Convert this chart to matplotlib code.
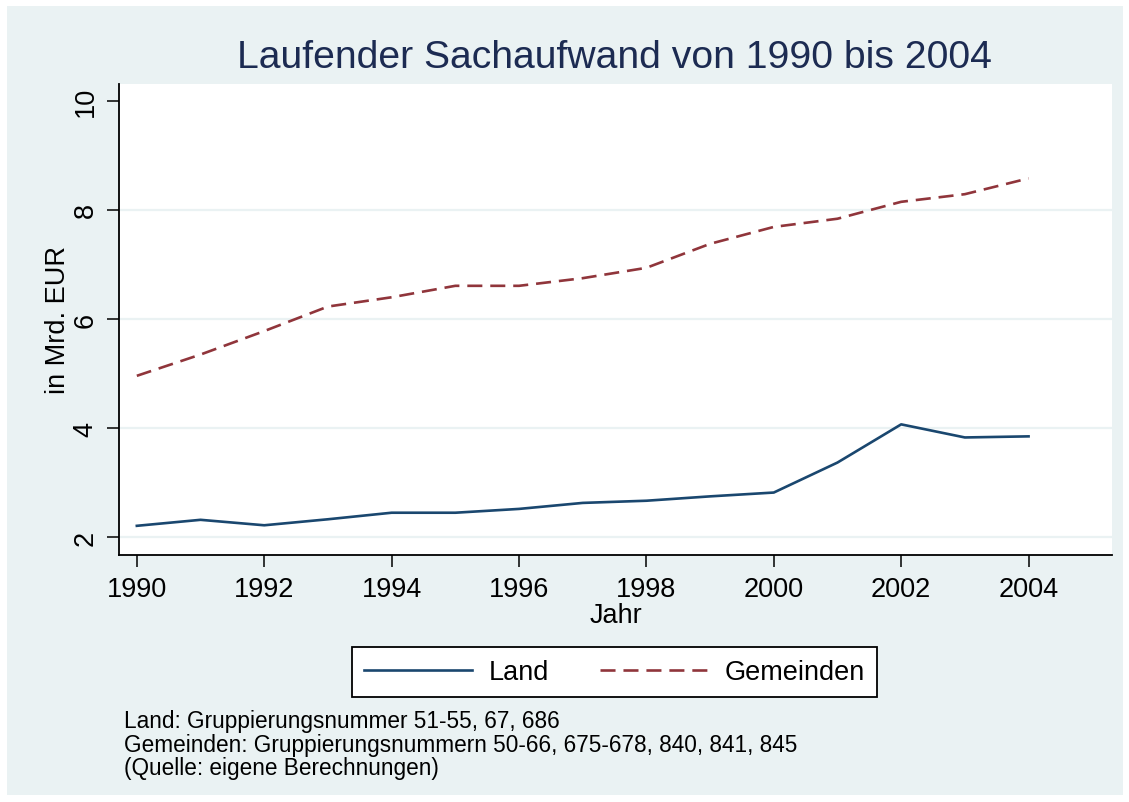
import matplotlib
matplotlib.use("Agg")
import matplotlib.pyplot as plt
from matplotlib.patches import Rectangle
from matplotlib.lines import Line2D

plt.rcParams['font.family'] = ['Liberation Sans', 'DejaVu Sans']

years = list(range(1990, 2005))
land = [2.21, 2.32, 2.22, 2.33, 2.45, 2.45, 2.52, 2.63, 2.67, 2.75, 2.82, 3.37, 4.07, 3.83, 3.85]
gemeinden = [4.96, 5.35, 5.78, 6.23, 6.40, 6.61, 6.61, 6.75, 6.94, 7.38, 7.69, 7.84, 8.15, 8.29, 8.58]
xticks = [1990, 1992, 1994, 1996, 1998, 2000, 2002, 2004]
yticks = [2, 4, 6, 8, 10]

title = "Laufender Sachaufwand von 1990 bis 2004"
ylabel = "in Mrd. EUR"
xlabel = "Jahr"
series_labels = ["Land", "Gemeinden"]
notes = ["Land: Gruppierungsnummer 51-55, 67, 686",
         "Gemeinden: Gruppierungsnummern 50-66, 675-678, 840, 841, 845",
         "(Quelle: eigene Berechnungen)"]

W, H = 1129, 803
fig = plt.figure(figsize=(W / 100, H / 100), dpi=100)
fig.patch.set_facecolor('white')

BG = '#EAF2F3'
NAVY = '#1a476f'
MAROON = '#90353b'
DASH = (5.7, 3.0)

def fx(px):
    return px / W

def fy(py):
    return 1 - py / H

bgrect = Rectangle((fx(7), fy(796)), fx(1123) - fx(7), fy(7) - fy(796),
                   transform=fig.transFigure, facecolor=BG, edgecolor='none', zorder=-10)
fig.patches.append(bgrect)

left, right, top, bottom = 119, 1112, 85, 556
ax = fig.add_axes([fx(left), fy(bottom), fx(right) - fx(left), fy(top) - fy(bottom)])
ax.set_zorder(5)
ax.set_facecolor('white')

for y in yticks[:-1]:
    ax.axhline(y, color=BG, lw=1.6, zorder=1)

ax.plot(years, land, color=NAVY, lw=1.9, solid_joinstyle='round', zorder=3)
ax.plot(years, gemeinden, color=MAROON, lw=1.9, dashes=DASH, zorder=3)

ax.set_xlim(1989.72, 2005.31)
ax.set_ylim(1.675, 10.31)
ax.set_xticks(xticks)
ax.set_yticks(yticks)
ax.set_yticklabels([str(v) for v in yticks], rotation=90, va='center')

for s in ['top', 'right']:
    ax.spines[s].set_visible(False)
for s in ['left', 'bottom']:
    ax.spines[s].set_linewidth(1.3)
    ax.spines[s].set_color('black')

ax.tick_params(axis='both', length=8.5, width=1.1, color='black', labelsize=19.5, pad=6.5)
ax.tick_params(axis='y', pad=6)

ax.set_ylabel(ylabel, fontsize=19.5, labelpad=1)
ax.set_xlabel(xlabel, fontsize=19.5, labelpad=0)

fig.text(fx(614), fy(58), title, ha='center', va='center', fontsize=28.2, color='#1c2b52', zorder=6)

handles = [Line2D([], [], color=NAVY, lw=1.9),
           Line2D([], [], color=MAROON, lw=1.9, dashes=DASH)]
leg = fig.legend(handles, series_labels, loc='center', ncol=2,
                 bbox_to_anchor=(fx(614.5), fy(673)), bbox_transform=fig.transFigure,
                 fontsize=19.5, frameon=True, fancybox=False, framealpha=1.0, handlelength=4.0,
                 handletextpad=0.6, columnspacing=1.9, borderpad=0.45)
leg.set_zorder(6)
leg.get_frame().set_edgecolor('black')
leg.get_frame().set_linewidth(1.3)
leg.get_frame().set_facecolor('white')

for i, line in enumerate(notes):
    fig.text(fx(124), fy(722 + 23.5 * i), line, ha='left', va='center', fontsize=16.3, zorder=6)

fig.savefig('out.png', dpi=100, facecolor='white')
